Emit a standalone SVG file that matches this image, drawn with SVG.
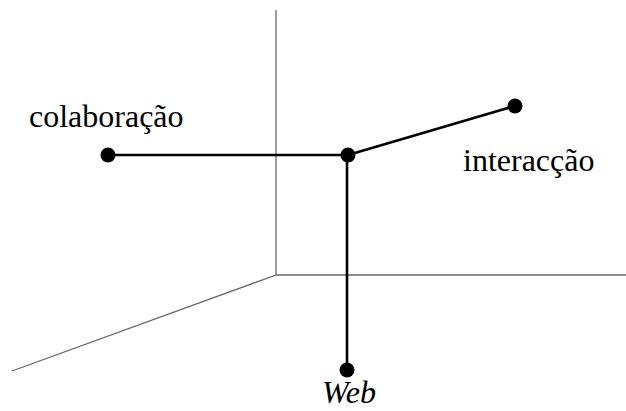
<svg xmlns="http://www.w3.org/2000/svg" width="626" height="411" viewBox="0 0 626 411">
<style>
.axis{stroke:#666;stroke-width:1.3;fill:none}
.edge{stroke:#000;stroke-width:2.6;fill:none}
.dot{fill:#000}
.lbl{font-size:32px;fill:#000}
</style>
<rect width="626" height="411" fill="#fff"/>
<g id="axes">
<line class="axis" x1="276" y1="10" x2="276" y2="275"/>
<line class="axis" x1="276" y1="275" x2="626" y2="275"/>
<line class="axis" x1="276" y1="275" x2="12" y2="371"/>
</g>
<g id="connectors">
<line class="edge" x1="108" y1="155" x2="348" y2="155"/>
<line class="edge" x1="348" y1="155" x2="515" y2="106"/>
<line class="edge" x1="347" y1="155" x2="347" y2="370"/>
</g>
<g id="node-center"><circle class="dot" cx="348" cy="155" r="7.5"/></g>
<g id="node-colaboracao"><circle class="dot" cx="108" cy="155" r="7.5"/><text class="lbl" font-family="'Liberation Serif', 'DejaVu Serif', serif" x="29" y="127">colaboração</text></g>
<g id="node-interaccao"><circle class="dot" cx="515" cy="106" r="7.5"/><text class="lbl" font-family="'Liberation Serif', 'DejaVu Serif', serif" x="463" y="171">interacção</text></g>
<g id="node-web"><circle class="dot" cx="347" cy="370" r="7.5"/><text class="lbl" font-family="'Liberation Serif', 'DejaVu Serif', serif" x="322" y="403" font-style="italic" font-size="30">Web</text></g>
</svg>
